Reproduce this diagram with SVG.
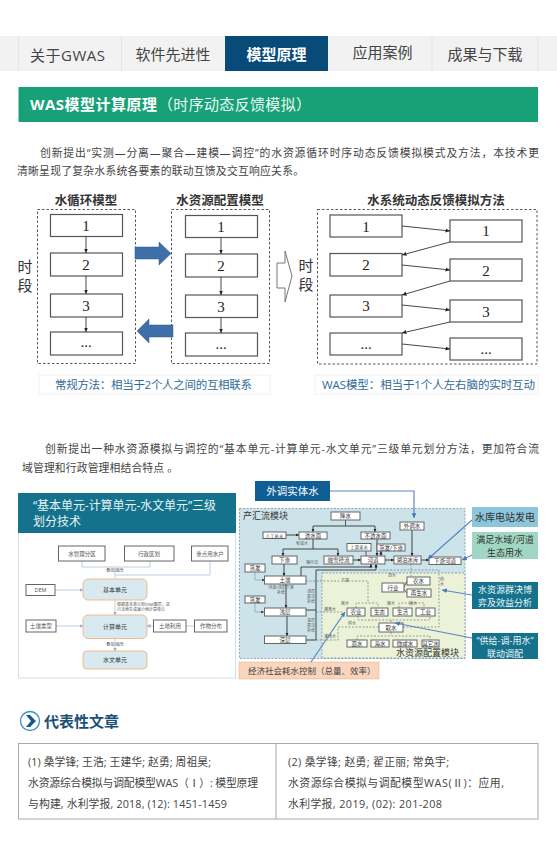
<svg xmlns="http://www.w3.org/2000/svg" width="557" height="845" viewBox="0 0 557 845">
<style>
text{font-family:"Open Sans","Noto Sans CJK SC",sans-serif;fill:#333}
.m{text-anchor:middle}
.nav{font-size:15px;fill:#444}
.p{font-size:10.8px;fill:#444}
.ft{font-size:12.5px;font-weight:600;fill:#333;text-anchor:middle}
.ts{font-size:15px;fill:#333;text-anchor:middle}
.b{fill:#fff;stroke:#555;stroke-width:1.2}
.num{font-family:"Liberation Serif",serif;font-size:15px;fill:#222;text-anchor:middle}
.dash{fill:none;stroke:#444;stroke-width:.9;stroke-dasharray:2.5 2}
.cap{fill:#fff;stroke:#eef1f3}
.capt{font-size:11.5px;fill:#2f6a99}
.l{fill:none;stroke:#333;stroke-width:.8}
.la{fill:none;stroke:#333;stroke-width:.9;marker-end:url(#a)}
.th{fill:none;stroke:#444;stroke-width:1}
.thk{fill:none;stroke:#444;stroke-width:1;marker-end:url(#s)}
.g{fill:none;stroke:#666;stroke-width:.6;stroke-dasharray:2 1.5}
.lb{fill:none;stroke:#bcd0e6;stroke-width:1}
.lba{fill:none;stroke:#bcd0e6;stroke-width:1;marker-end:url(#lbm)}
.c{fill:none;stroke:#5b87c5;stroke-width:1.2;marker-end:url(#bm)}
.sn{fill:#fff;stroke:#666;stroke-width:1}
.st{font-size:5.5px;fill:#333;text-anchor:middle}
.tiny{font-size:4px;fill:#555;text-anchor:middle}
.mini{fill:#fff;stroke:#666;stroke-width:1}
.mt{font-size:5.5px;fill:#555;text-anchor:middle}
.u{fill:#d9e9f0;stroke:#f2b98c;stroke-width:1}
.ut{font-size:6px;fill:#333;text-anchor:middle}
.tb{font-size:10.8px;fill:#444}
</style>
<defs>
<marker id="a" markerWidth="6" markerHeight="6" refX="5" refY="3" orient="auto"><path d="M0,0.8L5,3L0,5.200z" fill="#222"/></marker>
<marker id="s" markerWidth="4" markerHeight="4" refX="3.500" refY="2" orient="auto"><path d="M0,0.400L3.500,2L0,3.600z" fill="#222"/></marker>
<marker id="bm" markerWidth="5" markerHeight="5" refX="4" refY="2.500" orient="auto"><path d="M0,0.500L4,2.500L0,4.500z" fill="#4a78b8"/></marker>
<marker id="lbm" markerWidth="4" markerHeight="4" refX="3.500" refY="2" orient="auto"><path d="M0,0L4,2L0,4z" fill="#9ab4d4"/></marker>
</defs>
<rect width="557" height="845" fill="#fff"/>

<g id="nav">
<rect x="0" y="36" width="557" height="35" fill="#f2f2f2"/>
<path d="M18.500,36V71M121.500,36V71M432,36V71M538,36V71" stroke="#e4e4e4" fill="none"/>
<text class="nav m" x="67.500" y="61" textLength="75">关于GWAS</text>
<text class="nav m" x="173" y="60">软件先进性</text>
<rect x="225" y="36" width="103" height="35" fill="#084b78"/>
<text class="nav m" x="276.500" y="60" style="fill:#fff;font-weight:700">模型原理</text>
<text class="nav m" x="382.500" y="58">应用案例</text>
<text class="nav m" x="485" y="60">成果与下载</text>
</g>

<g id="heading">
<rect x="18.500" y="87" width="519.500" height="35" fill="#18a176"/>
<text x="30" y="110" font-size="15" textLength="127" style="fill:#fff;font-weight:700">WAS模型计算原理</text>
<text x="158" y="110" font-size="15" textLength="153" style="fill:#eafaf4">（时序动态反馈模拟）</text>
</g>

<g id="para1">
<text class="p" x="40" y="157" textLength="499">创新提出“实测—分离—聚合—建模—调控”的水资源循环时序动态反馈模拟模式及方法，本技术更</text>
<text class="p" x="17" y="175" textLength="287">清晰呈现了复杂水系统各要素的联动互馈及交互响应关系。</text>
</g>

<g id="panel-water-cycle">
<text class="ft" x="86" y="205">水循环模型</text>
<rect class="dash" x="37.500" y="209.500" width="98" height="154"/>
<rect class="b" x="50.500" y="214.500" width="72" height="22"/><text class="num" x="86" y="231">1</text>
<rect class="b" x="50.500" y="253" width="72" height="23"/><text class="num" x="86" y="270">2</text>
<rect class="b" x="50.500" y="294" width="72" height="23"/><text class="num" x="86" y="311">3</text>
<rect class="b" x="50.500" y="332" width="72" height="23"/><text class="num" x="86" y="347">...</text>
</g>
<g id="panel-allocation">
<text class="ft" x="220" y="205">水资源配置模型</text>
<rect class="dash" x="171.500" y="209.500" width="98" height="154"/>
<rect class="b" x="185.500" y="215.500" width="72" height="22"/><text class="num" x="221" y="232">1</text>
<rect class="b" x="185.500" y="254" width="72" height="23"/><text class="num" x="221" y="271">2</text>
<rect class="b" x="185.500" y="295" width="72" height="22.500"/><text class="num" x="221" y="312">3</text>
<rect class="b" x="185.500" y="333" width="72" height="23"/><text class="num" x="221" y="349">...</text>
</g>
<g id="duan-left"><text class="ts" x="25" y="272">时</text><text class="ts" x="25" y="291">段</text></g>
<g id="duan-right"><text class="ts" x="306" y="271">时</text><text class="ts" x="306" y="290">段</text></g>
<g id="panel-dynamic">
<text class="ft" x="436" y="205">水系统动态反馈模拟方法</text>
<rect class="dash" x="317.500" y="209.500" width="219.500" height="154.500"/>
<rect class="b" x="330" y="215" width="72" height="22"/><text class="num" x="366" y="232">1</text>
<rect class="b" x="330" y="253.500" width="72" height="22.500"/><text class="num" x="366" y="270">2</text>
<rect class="b" x="330" y="295" width="72" height="22"/><text class="num" x="366" y="311">3</text>
<rect class="b" x="330" y="333" width="72" height="22"/><text class="num" x="366" y="349">...</text>
<rect class="b" x="450" y="220" width="72" height="22"/><text class="num" x="486" y="236">1</text>
<rect class="b" x="450" y="259" width="72" height="22"/><text class="num" x="486" y="276">2</text>
<rect class="b" x="450" y="300" width="72" height="22"/><text class="num" x="486" y="317">3</text>
<rect class="b" x="450" y="338" width="72" height="22"/><text class="num" x="486" y="354">...</text>
</g>
<g id="cap1"><rect class="cap" x="39" y="375" width="231" height="19"/><text class="capt" x="55" y="389" textLength="197">常规方法：相当于2个人之间的互相联系</text></g>
<g id="cap2"><rect class="cap" x="315" y="375" width="223" height="19"/><text class="capt" x="322" y="389" textLength="213">WAS模型：相当于1个人左右脑的实时互动</text></g>

<g id="connectors-top">
<path class="la" d="M86,236.500V253"/><path class="la" d="M86,276V294"/><path class="la" d="M86,317V332"/>
<path class="la" d="M221,237.500V254"/><path class="la" d="M221,277V295"/><path class="la" d="M221,317.500V333"/>
<path class="la" d="M402,226L450,231"/><path class="la" d="M450,242L402,255"/><path class="la" d="M402,265L450,270"/><path class="la" d="M450,281L402,295"/><path class="la" d="M402,305L450,310"/><path class="la" d="M450,322L402,333"/><path class="la" d="M402,344L450,349"/>
<path d="M135,247H159V242L171,253.500L159,265V259H135z" fill="#3f6fa8" stroke="#2f5a8c" stroke-width=".5"/>
<path d="M173,325H149V319L137,331L149,343V337H173z" fill="#3f6fa8" stroke="#2f5a8c" stroke-width=".5"/>
<path d="M277,263H285V251L292,276L285,302V288H277z" fill="#fff" stroke="#777" stroke-width="1"/>
</g>

<g id="para2">
<text class="p" x="45" y="453" textLength="494">创新提出一种水资源模拟与调控的“基本单元-计算单元-水文单元”三级单元划分方法，更加符合流</text>
<text class="p" x="22" y="472" textLength="156">域管理和行政管理相结合特点 。</text>
</g>

<g id="unit-panel">
<rect x="18.500" y="493.500" width="217" height="184.500" fill="#fff" stroke="#cfe0e6"/>
<rect x="18" y="493" width="218" height="40" fill="#14728c"/>
<text x="33" y="510" font-size="12" style="fill:#e6f2f5" textLength="183">“基本单元-计算单元-水文单元”三级</text>
<text x="33" y="526" font-size="12" style="fill:#e6f2f5">划分技术</text>
</g>
<g id="unit-connectors">
<path class="lb" d="M82,561V567H150V561M115,567V579M210,561V575H115"/>
<path class="lba" d="M55,590H83"/><path class="lba" d="M115,600V615"/><path class="lba" d="M56,626H83"/><path class="lba" d="M153,626H147"/><path class="lb" d="M186,626H194"/><path class="lba" d="M115,638.500V651"/>
<text class="tiny" x="115" y="572">叠加/融合</text>
<text class="tiny" x="117" y="606" style="text-anchor:start">根据基本单元和DEM图层，进</text>
<text class="tiny" x="117" y="611" style="text-anchor:start">行洼地生成最小地计算单元</text>
<text class="tiny" x="115" y="646">叠加/融合</text>
</g>
<g id="u-water-zone"><rect class="mini" x="58.500" y="546" width="46.500" height="15"/><text class="mt" x="82" y="555.500">水管理分区</text></g>
<g id="u-admin"><rect class="mini" x="124.500" y="546" width="49.500" height="15"/><text class="mt" x="149" y="555.500">行政区划</text></g>
<g id="u-users"><rect class="mini" x="191.500" y="546" width="36.500" height="15"/><text class="mt" x="210" y="555.500">重点用水户</text></g>
<g id="u-dem"><rect class="mini" x="26" y="584.500" width="29" height="11"/><text class="mt" x="40.500" y="592">DEM</text></g>
<g id="u-basic"><rect class="u" x="83" y="579" width="64" height="21" rx="5"/><text class="ut" x="115" y="592">基本单元</text></g>
<g id="u-calc"><rect class="u" x="83" y="615" width="64" height="23.500" rx="5"/><text class="ut" x="115" y="629">计算单元</text></g>
<g id="u-hydro"><rect class="u" x="83" y="651" width="64" height="18" rx="4"/><text class="ut" x="115" y="662">水文单元</text></g>
<g id="u-soil"><rect class="mini" x="26" y="620" width="30" height="12"/><text class="mt" x="41" y="628">土壤类型</text></g>
<g id="u-land"><rect class="mini" x="153.500" y="620" width="32.500" height="12"/><text class="mt" x="170" y="628">土地利用</text></g>
<g id="u-crop"><rect class="mini" x="194.500" y="620" width="32.500" height="12"/><text class="mt" x="211" y="628">作物分布</text></g>

<g id="module-bg">
<rect x="239.500" y="508.500" width="225.500" height="150" fill="#cde3ea" stroke="#7b93a5" stroke-width=".8" stroke-dasharray="2 1.500"/>
<rect x="322" y="573" width="143" height="85" fill="#ebf2d8" stroke="#7b93a5" stroke-width=".8" stroke-dasharray="2 1.500"/>
<text x="243" y="519" font-size="9" style="fill:#333">产汇流模块</text>
<text x="459" y="656" font-size="9" text-anchor="end" style="fill:#333">水资源配置模块</text>
</g>

<g id="module-connectors">
<path class="l" d="M345.500,520V526"/><path class="th" d="M313,526H375"/><path class="thk" d="M313,526V532"/><path class="thk" d="M375,526V532"/>
<path class="thk" d="M286,535H299"/>
<path class="th" d="M313,539V549M283,549H338"/><path class="thk" d="M283,549V556"/><path class="thk" d="M338,549V556"/>
<path class="thk" d="M377,539V556"/><path class="l" d="M366,551V556"/><path class="thk" d="M381,556V551"/>
<path class="thk" d="M353,560H361"/><path class="thk" d="M385,560H394"/><path class="thk" d="M421,560H429"/><path class="thk" d="M412,530V556"/>
<path class="thk" d="M284,564V576"/><path class="thk" d="M255,572V580H265" style="stroke:#7fa8d0;stroke-width:.8"/>
<path class="thk" d="M286,584V608"/><path class="thk" d="M287,616V636"/>
<path class="thk" d="M255,603V612H264" style="stroke:#7fa8d0;stroke-width:.8"/>
<path class="th" d="M301,576V567H371"/><path class="thk" d="M371,567V564"/>
<path class="th" d="M306,610H316M306,640H316V570H376"/><path class="thk" d="M376,570V564"/>
<path class="g" d="M306,581H368V603"/>
<path class="g" d="M316,612H344"/><path class="g" d="M316,640H338V627H379"/>
<path class="g" d="M403,627H439V570H378"/>
<path class="g" d="M411,564V577"/>
<path class="l" d="M404,587L407,581M404,589L407,593"/>
<path class="g" d="M358,616V620H430V616M391,620V623M391,632V636M357,640V636H430V640"/>
<path class="g" d="M356,608V603H378V608M399,608V603H424V608"/>
<text class="tiny" x="302" y="545">有效水</text>
<text class="tiny" x="312" y="564">壤中流</text>
<text class="tiny" x="281" y="589">河道/浅层下渗</text>
<text class="tiny" x="281" y="594">补给</text>
<text class="tiny" x="311" y="593">浅层</text><text class="tiny" x="311" y="598">基流</text><text class="tiny" x="311" y="603">补给</text>
<text class="tiny" x="311" y="622">深层</text><text class="tiny" x="311" y="627">基流</text><text class="tiny" x="311" y="632">补给</text>
<text class="tiny" x="345" y="582">下渗</text>
<text class="tiny" x="330" y="611">灌溉水</text><text class="tiny" x="330" y="638">灌溉水</text>
<text class="tiny" x="352" y="625">供水</text>
<text class="tiny" x="392" y="577">退水</text>
<text class="tiny" x="442" y="581">供</text><text class="tiny" x="442" y="586">水</text>
<text class="tiny" x="345" y="605">需水</text><text class="tiny" x="391" y="605">需水</text><text class="tiny" x="413" y="605">需水</text>
</g>
<g id="m-rain"><rect class="sn" x="331" y="512" width="29" height="8"/><text class="st" x="345.500" y="518">降水</text></g>
<g id="m-import"><rect class="sn" x="400" y="522" width="24" height="8"/><text class="st" x="412" y="528">外调水</text></g>
<g id="m-artificial"><rect class="sn" x="263" y="532" width="23" height="6.500"/><text class="st" x="274.500" y="537.500" style="font-size:4.500px">人工补水</text></g>
<g id="m-perv"><rect class="sn" x="299" y="532" width="28" height="7"/><text class="st" x="313" y="537.500">透水面</text></g>
<g id="m-imperv"><rect class="sn" x="361" y="532" width="29" height="7"/><text class="st" x="375.500" y="537.500">不透水面</text></g>
<g id="m-upstream"><rect class="sn" x="347" y="543.500" width="24" height="7.500"/><text class="st" x="359" y="549" style="font-size:4.500px">上游来水</text></g>
<g id="m-evap2"><rect class="sn" x="377" y="544" width="28" height="7"/><text class="st" x="391" y="549.500">蒸发/下渗</text></g>
<g id="m-infil"><rect class="sn" x="272" y="556" width="25" height="8"/><text class="st" x="284.500" y="562">下渗</text></g>
<g id="m-runoff"><rect class="sn" x="324" y="556" width="29" height="8"/><text class="st" x="338.500" y="562">融雪径流</text></g>
<g id="m-river"><rect class="sn" x="361" y="556" width="24" height="8"/><text class="st" x="373" y="562">河道</text></g>
<g id="m-lake"><rect class="sn" x="394" y="556" width="27" height="8"/><text class="st" x="407.500" y="562">湖泊水库</text></g>
<g id="m-down"><rect class="sn" x="429" y="557" width="32" height="7.500"/><text class="st" x="445" y="563">下游河道</text></g>
<g id="m-evap"><rect class="sn" x="245" y="564" width="20" height="8"/><text class="st" x="255" y="570">蒸发</text></g>
<g id="m-soil"><rect class="sn" x="264.500" y="576" width="41.500" height="8"/><text class="st" x="285" y="582">土壤</text></g>
<g id="m-evap3"><rect class="sn" x="245" y="596" width="20" height="7"/><text class="st" x="255" y="601.500">蒸发</text></g>
<g id="m-shallow"><rect class="sn" x="264.500" y="608" width="41.500" height="8"/><text class="st" x="285" y="614">浅层</text></g>
<g id="m-deep"><rect class="sn" x="264.500" y="636" width="41.500" height="7.500"/><text class="st" x="285" y="642">深层</text></g>
<g id="m-sector"><rect class="sn" x="382" y="583" width="22" height="9"/><text class="st" x="393" y="590">行业</text></g>
<g id="m-farmwater"><rect class="sn" x="407" y="577" width="23" height="8"/><text class="st" x="418.500" y="583">农水</text></g>
<g id="m-recycled"><rect class="sn" x="407" y="589" width="24" height="8"/><text class="st" x="419" y="595">再生水</text></g>
<g id="m-agri"><rect class="sn" x="347" y="608" width="18" height="8"/><text class="st" x="356" y="614">农业</text></g>
<g id="m-eco"><rect class="sn" x="371" y="608" width="17" height="8"/><text class="st" x="379.500" y="614">生态</text></g>
<g id="m-life"><rect class="sn" x="393" y="608" width="19" height="8"/><text class="st" x="402.500" y="614">生活</text></g>
<g id="m-indus"><rect class="sn" x="416" y="608" width="19" height="8"/><text class="st" x="425.500" y="614">工业</text></g>
<g id="m-intake"><rect class="sn" x="379" y="623" width="24" height="9"/><text class="st" x="391" y="630">取水</text></g>
<g id="m-surf"><rect class="sn" x="347" y="640" width="20" height="7"/><text class="st" x="357" y="645.500">面水</text></g>
<g id="m-sea"><rect class="sn" x="371" y="640" width="18" height="7"/><text class="st" x="380" y="645.500">海水</text></g>
<g id="m-brack"><rect class="sn" x="393" y="640" width="24" height="7"/><text class="st" x="405" y="645.500">微咸水</text></g>
<g id="m-other"><rect class="sn" x="422" y="640" width="17" height="7"/><text class="st" x="430.500" y="645.500">其它水</text></g>

<g id="callout-import"><rect x="255" y="481" width="75" height="20" fill="#0f5e96"/><text class="m" x="292.500" y="495" font-size="10.500" style="fill:#fff">外调实体水</text></g>
<g id="callout-hydro"><rect x="472" y="507" width="66" height="20" fill="#8cc6da"/><text class="m" x="505" y="521" font-size="10" style="fill:#333">水库电站发电</text></g>
<g id="callout-eco"><rect x="472" y="532" width="66" height="27" fill="#a0d7c2"/><text class="m" x="505" y="543" font-size="9" style="fill:#333">满足水域/河道</text><text class="m" x="505" y="556" font-size="9" style="fill:#333">生态用水</text></g>
<g id="callout-game"><rect x="472" y="582" width="66" height="27" fill="#14728c"/><text class="m" x="505" y="593" font-size="9" style="fill:#eef7fa">水资源群决博</text><text class="m" x="505" y="606" font-size="9" style="fill:#eef7fa">弈及效益分析</text></g>
<g id="callout-link"><rect x="472" y="633" width="66" height="26" fill="#14728c"/><text class="m" x="505" y="644" font-size="9" style="fill:#eef7fa">“供给-调-用水”</text><text class="m" x="505" y="657" font-size="9" style="fill:#eef7fa">联动调配</text></g>
<g id="callout-econ"><rect x="239" y="662" width="140" height="17" fill="#f8d5bc" stroke="#eab58f" stroke-width=".6"/><text x="248" y="674" font-size="8.500" style="fill:#444">经济社会耗水控制（总量、效率）</text></g>

<g id="callout-connectors">
<path class="c" d="M330,491H414V518"/>
<path class="c" d="M472,520L428,559"/>
<path class="c" d="M472,555L462,560"/>
<path class="c" d="M472,595L442,590"/>
<path class="c" d="M472,638L395,623"/>
<path class="c" d="M311,662L345,612"/>
</g>

<g id="articles-head">
<circle cx="30" cy="721" r="9.500" fill="#fff" stroke="#3b8fc0" stroke-width="1.300"/>
<path d="M26,715H30L36,721L30,727H26L31,721z" fill="#14598a"/>
<text x="44" y="727" font-size="15" style="fill:#1a5078;font-weight:700">代表性文章</text>
</g>
<g id="article-table">
<rect x="18.500" y="743.500" width="519.500" height="75.500" fill="#fff" stroke="#a9a9a9" stroke-width="1"/>
<path d="M276,743.500V819" stroke="#a9a9a9" fill="none"/>
<text class="tb" x="28" y="766" textLength="183">(1) 桑学锋; 王浩; 王建华; 赵勇; 周祖昊;</text>
<text class="tb" x="28" y="787" textLength="230">水资源综合模拟与调配模型WAS（Ⅰ）: 模型原理</text>
<text class="tb" x="28" y="808" textLength="199">与构建, 水利学报, 2018, (12): 1451-1459</text>
<text class="tb" x="288" y="766" textLength="161">(2) 桑学锋; 赵勇; 翟正丽; 常奂宇;</text>
<text class="tb" x="288" y="787" textLength="216">水资源综合模拟与调配模型WAS(Ⅱ)：应用,</text>
<text class="tb" x="288" y="808" textLength="154">水利学报, 2019, (02): 201-208</text>
</g>
</svg>
